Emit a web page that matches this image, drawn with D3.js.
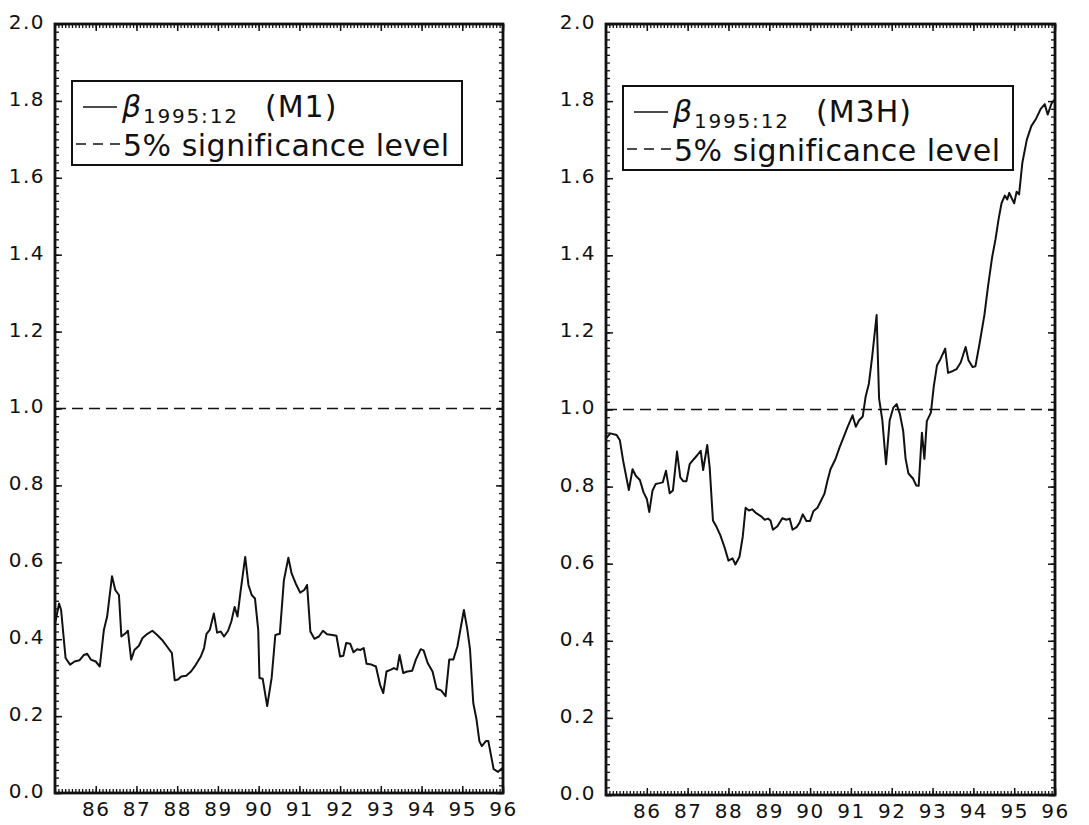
<!DOCTYPE html>
<html>
<head>
<meta charset="utf-8">
<script src="https://cdn.jsdelivr.net/npm/d3@7"></script>
<style>
  html, body { margin: 0; padding: 0; background: #fff; }
  svg { display: block; }
  text { font-family: "DejaVu Sans", "Liberation Sans", sans-serif; fill: #111; }
</style>
</head>
<body>
<svg id="chart" width="1089" height="825"></svg>
<script>
// ---------- data ----------
// time axis in years 19xx (decimal), e.g. 86.5 = mid-1986
const m1Dates = [85.00,85.10,85.15,85.26,85.37,85.48,85.60,85.71,85.79,85.88,86.00,86.10,86.20,86.28,86.40,86.48,86.57,86.63,86.74,86.79,86.87,86.95,87.06,87.15,87.27,87.39,87.51,87.63,87.75,87.87,87.94,88.02,88.10,88.22,88.34,88.46,88.58,88.66,88.72,88.80,88.90,88.98,89.07,89.15,89.25,89.33,89.41,89.48,89.55,89.67,89.75,89.83,89.91,89.99,90.02,90.10,90.21,90.32,90.41,90.52,90.62,90.73,90.81,90.91,91.02,91.12,91.19,91.27,91.37,91.48,91.58,91.68,91.81,91.91,92.00,92.08,92.15,92.25,92.33,92.42,92.50,92.58,92.65,92.77,92.88,92.98,93.06,93.14,93.25,93.32,93.40,93.46,93.55,93.65,93.77,93.86,93.98,94.05,94.15,94.27,94.37,94.48,94.59,94.68,94.78,94.88,95.04,95.12,95.19,95.27,95.35,95.42,95.48,95.58,95.64,95.77,95.88,95.95,96.00];
const m1Values = [0.440,0.493,0.476,0.351,0.334,0.342,0.345,0.359,0.362,0.347,0.342,0.329,0.424,0.459,0.564,0.528,0.515,0.407,0.416,0.422,0.347,0.372,0.383,0.403,0.414,0.422,0.411,0.398,0.381,0.364,0.293,0.295,0.303,0.305,0.316,0.334,0.355,0.377,0.414,0.424,0.467,0.417,0.420,0.407,0.422,0.446,0.484,0.459,0.519,0.614,0.541,0.515,0.506,0.424,0.299,0.297,0.226,0.300,0.411,0.414,0.553,0.612,0.571,0.545,0.521,0.528,0.541,0.420,0.401,0.407,0.422,0.413,0.411,0.409,0.355,0.357,0.390,0.388,0.366,0.374,0.372,0.377,0.336,0.334,0.329,0.282,0.260,0.316,0.321,0.325,0.321,0.359,0.312,0.316,0.318,0.347,0.374,0.371,0.338,0.316,0.271,0.267,0.252,0.347,0.347,0.381,0.476,0.428,0.374,0.234,0.191,0.135,0.122,0.135,0.135,0.062,0.055,0.062,0.065];

const m3hDates = [85.00,85.11,85.26,85.34,85.42,85.56,85.65,85.73,85.83,85.92,86.00,86.06,86.14,86.22,86.31,86.39,86.47,86.56,86.64,86.74,86.82,86.89,86.97,87.05,87.15,87.24,87.32,87.38,87.48,87.54,87.62,87.71,87.80,87.90,88.00,88.10,88.17,88.27,88.35,88.42,88.50,88.58,88.68,88.80,88.89,88.97,89.03,89.09,89.20,89.32,89.42,89.50,89.57,89.67,89.74,89.82,89.91,90.00,90.08,90.18,90.27,90.35,90.43,90.50,90.62,90.72,90.81,90.92,91.04,91.12,91.20,91.29,91.36,91.44,91.52,91.63,91.69,91.77,91.86,91.95,92.04,92.12,92.20,92.28,92.34,92.41,92.52,92.60,92.66,92.74,92.80,92.86,92.96,93.03,93.11,93.19,93.31,93.38,93.50,93.59,93.69,93.81,93.88,93.98,94.05,94.15,94.27,94.36,94.46,94.54,94.62,94.69,94.77,94.83,94.88,94.94,95.00,95.06,95.12,95.20,95.31,95.42,95.54,95.65,95.75,95.82,95.92,96.00];
const m3hValues = [0.925,0.938,0.934,0.920,0.867,0.791,0.845,0.828,0.817,0.785,0.768,0.734,0.790,0.807,0.809,0.811,0.841,0.783,0.790,0.891,0.824,0.814,0.814,0.858,0.871,0.882,0.893,0.843,0.908,0.850,0.712,0.695,0.674,0.644,0.608,0.614,0.598,0.618,0.670,0.745,0.738,0.741,0.731,0.723,0.714,0.717,0.712,0.688,0.697,0.718,0.714,0.717,0.688,0.695,0.706,0.728,0.711,0.711,0.736,0.745,0.764,0.781,0.817,0.845,0.871,0.901,0.925,0.955,0.985,0.955,0.972,0.982,1.033,1.067,1.136,1.245,1.029,0.972,0.858,0.972,1.005,1.014,0.988,0.945,0.872,0.834,0.821,0.803,0.802,0.940,0.872,0.970,0.992,1.060,1.115,1.130,1.158,1.095,1.100,1.105,1.122,1.162,1.128,1.110,1.112,1.170,1.245,1.320,1.395,1.440,1.495,1.535,1.555,1.545,1.562,1.548,1.535,1.565,1.558,1.640,1.700,1.735,1.755,1.780,1.792,1.765,1.795,1.805];

const significanceLevel = 1.0;
const xTickLabels = ["86","87","88","89","90","91","92","93","94","95","96"];
const yTickLabels = ["0.0","0.2","0.4","0.6","0.8","1.0","1.2","1.4","1.6","1.8","2.0"];
const modelNames = ["M1","M3H"];
const betaSubscript = "1995:12";
const sigLabel = "5% significance level";

// ---------- layout ----------
const svg = d3.select("#chart");
const panels = [
  {model: modelNames[0], dates: m1Dates, values: m1Values, left: 55, right: 503, top: 24, bottom: 793, lx: 72, ly: 81},
  {model: modelNames[1], dates: m3hDates, values: m3hValues, left: 606, right: 1055, top: 24, bottom: 795, lx: 623, ly: 86}
];

const yMajor = yTickLabels.map(Number);
const yMinor = d3.range(0, 201, 2).map(d => d / 100);
const xMajor = xTickLabels.map(Number);
const xMinor = d3.range(0, 133).map(i => 85 + i / 12);

panels.forEach(p => {
  const x = d3.scaleLinear().domain([85, 96]).range([p.left, p.right]);
  const y = d3.scaleLinear().domain([0, 2]).range([p.bottom, p.top]);
  const g = svg.append("g");

  // minor ticks on all four sides (inward)
  const minorStyle = sel => { sel.select(".domain").remove(); sel.selectAll("text").remove(); sel.selectAll("line").attr("stroke", "#111").attr("stroke-width", 1.3); };
  g.append("g").attr("transform", `translate(${p.left},0)`).call(d3.axisLeft(y).tickValues(yMinor).tickSize(-4).tickFormat("")).call(minorStyle);
  g.append("g").attr("transform", `translate(${p.right},0)`).call(d3.axisRight(y).tickValues(yMinor).tickSize(-4).tickFormat("")).call(minorStyle);
  g.append("g").attr("transform", `translate(0,${p.bottom})`).call(d3.axisBottom(x).tickValues(xMinor).tickSize(-4).tickFormat("")).call(minorStyle);
  g.append("g").attr("transform", `translate(0,${p.top})`).call(d3.axisTop(x).tickValues(xMinor).tickSize(-4).tickFormat("")).call(minorStyle);

  // major ticks + labels
  const yAx = g.append("g").attr("transform", `translate(${p.left},0)`)
    .call(d3.axisLeft(y).tickValues(yMajor).tickSize(-7).tickPadding(10).tickFormat(d3.format(".1f")));
  yAx.select(".domain").remove();
  yAx.selectAll("line").attr("stroke", "#111").attr("stroke-width", 1.5);
  yAx.selectAll("text").attr("font-size", 20).attr("letter-spacing", 1.5).attr("dy", "0.22em")
    .style("font-family", '"DejaVu Sans", sans-serif').attr("fill", "#111");
  const yAxR = g.append("g").attr("transform", `translate(${p.right},0)`)
    .call(d3.axisRight(y).tickValues(yMajor).tickSize(-7).tickFormat(""));
  yAxR.select(".domain").remove();
  yAxR.selectAll("line").attr("stroke", "#111").attr("stroke-width", 1.5);

  const xAx = g.append("g").attr("transform", `translate(0,${p.bottom})`)
    .call(d3.axisBottom(x).tickValues(xMajor).tickSize(-7).tickPadding(9).tickFormat((d, i) => xTickLabels[i]));
  xAx.select(".domain").remove();
  xAx.selectAll("line").attr("stroke", "#111").attr("stroke-width", 1.5);
  xAx.selectAll("text").attr("font-size", 20).attr("letter-spacing", 1.5)
    .style("font-family", '"DejaVu Sans", sans-serif').attr("fill", "#111");
  const xAxT = g.append("g").attr("transform", `translate(0,${p.top})`)
    .call(d3.axisTop(x).tickValues(xMajor).tickSize(-7).tickFormat(""));
  xAxT.select(".domain").remove();
  xAxT.selectAll("line").attr("stroke", "#111").attr("stroke-width", 1.5);

  // frame
  g.append("rect").attr("x", p.left).attr("y", p.top)
    .attr("width", p.right - p.left).attr("height", p.bottom - p.top)
    .attr("fill", "none").attr("stroke", "#111").attr("stroke-width", 2.8);

  // significance level
  g.append("line").attr("x1", x(85)).attr("x2", x(96))
    .attr("y1", y(significanceLevel)).attr("y2", y(significanceLevel))
    .attr("stroke", "#111").attr("stroke-width", 1.6).attr("stroke-dasharray", "11,6");

  // series
  const data = p.dates.map((d, i) => [d, p.values[i]]);
  g.append("path").datum(data)
    .attr("d", d3.line().x(d => x(d[0])).y(d => y(d[1])))
    .attr("fill", "none").attr("stroke", "#111").attr("stroke-width", 2)
    .attr("stroke-linejoin", "round");

  // legend
  const L = g.append("g").attr("transform", `translate(${p.lx},${p.ly})`);
  L.append("rect").attr("x", 0).attr("y", 0).attr("width", 390).attr("height", 84)
    .attr("fill", "#fff").attr("stroke", "#111").attr("stroke-width", 2);
  L.append("line").attr("x1", 11).attr("x2", 45).attr("y1", 26).attr("y2", 26)
    .attr("stroke", "#111").attr("stroke-width", 1.5);
  L.append("text").attr("x", 50).attr("y", 36).attr("font-size", 30)
    .attr("font-style", "italic").text("β");
  L.append("text").attr("x", 71).attr("y", 42).attr("font-size", 20)
    .attr("letter-spacing", 1.8).text(betaSubscript);
  L.append("text").attr("x", 193).attr("y", 36).attr("font-size", 30)
    .attr("letter-spacing", 1).text(`(${p.model})`);
  L.append("line").attr("x1", 4).attr("x2", 48).attr("y1", 63).attr("y2", 63)
    .attr("stroke", "#111").attr("stroke-width", 1.5).attr("stroke-dasharray", "10,7");
  L.append("text").attr("x", 51).attr("y", 75).attr("font-size", 30)
    .attr("letter-spacing", 0.5).text(sigLabel);
});
</script>
</body>
</html>
